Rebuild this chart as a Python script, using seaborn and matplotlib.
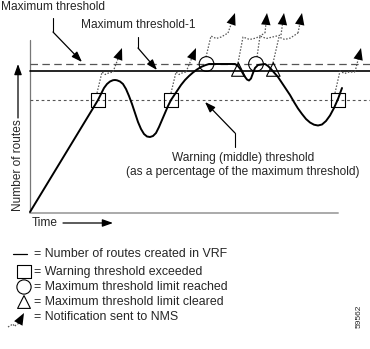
import numpy as np
import pandas as pd
import matplotlib
matplotlib.use("Agg")
import matplotlib.pyplot as plt
import seaborn as sns

sns.set_theme(style="white")
plt.rcParams["font.family"] = ["Liberation Sans", "DejaVu Sans"]

# Number of routes in the VRF over time
time = [0, 65, 68, 71, 74, 77, 80, 83, 85, 87, 90, 93, 96, 99, 102, 105, 108, 111,
        114, 117, 120, 123, 126, 129, 132, 135, 138, 141, 145, 148, 151, 155, 159,
        163, 167, 171, 175, 179, 205, 208, 211, 214, 217, 219, 221, 223, 225, 228,
        235, 238, 241, 244, 248, 252, 256, 260, 264, 268, 272, 276, 280, 284, 288,
        292, 296, 300, 304, 308, 312]
routes = [0, 107, 112, 118, 124, 128, 130.5, 131.8, 132, 131.7, 130.5, 128, 123, 116,
          108, 99, 90, 83, 78, 75.5, 75, 76, 79, 85, 92, 99, 106, 112, 118, 122.5,
          127, 132, 136, 139.5, 142.5, 145, 146.7, 148, 148, 146, 142, 136.5, 132.5,
          131.5, 133.5, 139, 144, 147, 148, 146, 143, 139.5, 135, 129, 123, 117, 110,
          103.5, 98, 93, 89.5, 87.3, 86.5, 87.5, 91, 96.5, 104, 113, 124]

max_threshold = 148
max_threshold_1 = 141
warning_threshold = 112
time_end = 340

# Events
warning_t = [68, 141, 308]
reached_t = [176.5, 226]
cleared_t = [208.3, 243.3]
cleared_level = 142.5

# Notifications: start, knee, end of squiggle, arrow tip  (time, routes)
notifications = [
    [(67, 119), (72, 140), (83, 140), (92, 164)],
    [(141, 119), (146, 140), (156, 140), (166, 164)],
    [(305, 119), (310, 141), (325, 140), (331, 164)],
    [(176, 155), (181, 176), (198, 179), (205, 199)],
    [(208, 149), (213, 175), (235, 179), (237, 199)],
    [(227, 155), (230, 176), (251, 177), (254, 199)],
    [(243, 149), (249, 175), (268, 179), (272, 199)],
]

fig = plt.figure(figsize=(3.70, 3.49), dpi=100)
ax = fig.add_axes([0, 0, 1, 1])
ax.set_xlim(-30, 340)
ax.set_ylim(-137, 212)
ax.axis("off")

FS = 8.6
FS_KEY = 8.9
DOT = (0, (1.2, 1.3))


def arrow(ax, p0, p1, ms=9, lw=0.9):
    ax.annotate("", xy=p1, xytext=p0,
                arrowprops=dict(arrowstyle="-|>,head_length=0.7,head_width=0.25",
                                color="black", lw=lw, mutation_scale=ms,
                                shrinkA=0, shrinkB=0))


def notification(ax, pts, color="#555555"):
    (x0, y0), (x1, y1), (x2, y2), (x3, y3) = pts
    w = x2 - x1
    xs = [x0, x1, x1 + 0.3 * w, x1 + 0.6 * w, x2]
    ys = [y0, y1, y1 - 2.5, y1 - 1.0, y2]
    ax.plot(xs, ys, linestyle=DOT, color=color, lw=0.9)
    ax.plot([x2, x3 - 0.2 * (x3 - x2)], [y2, y3 - 0.2 * (y3 - y2)],
            linestyle=DOT, color=color, lw=0.9)
    ax.annotate("", xy=(x3, y3), xytext=(x3 - 0.3 * (x3 - x2), y3 - 0.3 * (y3 - y2)),
                arrowprops=dict(arrowstyle="-|>,head_length=0.9,head_width=0.36",
                                color="black", lw=0, mutation_scale=9.5,
                                shrinkA=0, shrinkB=0))


# Axes lines
ax.plot([0, 0], [0, 172], color="#777777", lw=0.9)
ax.plot([0, 308], [-1, -1], color="#aaaaaa", lw=1.4)

# Threshold lines
sns.lineplot(x=[0, time_end], y=[max_threshold] * 2, ax=ax, color="#555555",
             lw=0.9, linestyle=(0, (6, 3.5)))
sns.lineplot(x=[0, time_end], y=[max_threshold_1] * 2, ax=ax, color="black", lw=1.2)
sns.lineplot(x=[0, time_end], y=[warning_threshold] * 2, ax=ax, color="#555555",
             lw=0.8, linestyle=(0, (2.5, 2.5)))

# Route count curve
df = pd.DataFrame({"time": time, "routes": routes})
sns.lineplot(data=df, x="time", y="routes", sort=False, ax=ax, color="black", lw=1.4)

# Notifications
for pts in notifications:
    notification(ax, pts)

# Event markers
sns.scatterplot(x=warning_t, y=[warning_threshold] * len(warning_t), ax=ax, marker="s",
                s=108, facecolor="none", edgecolor="black", linewidth=0.8, zorder=5)
sns.scatterplot(x=reached_t, y=[max_threshold] * len(reached_t), ax=ax, marker="o",
                s=112, facecolor="none", edgecolor="black", linewidth=0.8, zorder=5)
sns.scatterplot(x=cleared_t, y=[cleared_level] * len(cleared_t), ax=ax, marker="^",
                s=95, facecolor="none", edgecolor="black", linewidth=0.8, zorder=5)

# Labels with pointers
ax.text(-29, 205, "Maximum threshold", fontsize=FS, ha="left", va="center")
ax.plot([23, 23], [194, 180], color="black", lw=0.8)
arrow(ax, (23, 180), (52, 150))
ax.text(51, 187, "Maximum threshold-1", fontsize=FS, ha="left", va="center")
ax.plot([108, 108], [175, 164], color="black", lw=0.8)
arrow(ax, (108, 164), (127, 142))
ax.plot([205, 205], [65, 79], color="black", lw=0.8)
arrow(ax, (205, 79), (175, 110))
ax.text(213, 54, "Warning (middle) threshold", fontsize=FS, ha="center", va="center")
ax.text(213, 40, "(as a percentage of the maximum threshold)", fontsize=FS,
        ha="center", va="center")

# Axis titles
ax.text(-12, 47, "Number of routes", fontsize=FS, rotation=90, ha="center", va="center")
arrow(ax, (-12, 94), (-12, 148))
ax.text(2, -11, "Time", fontsize=FS, ha="left", va="center")
arrow(ax, (33, -11), (83, -11))

# Key
ax.plot([-17, -3], [-42, -42], color="black", lw=0.9)
ax.text(4, -42, "= Number of routes created in VRF", fontsize=FS_KEY, ha="left", va="center")
ax.scatter([-6], [-59.5], marker="s", s=100, facecolor="none", edgecolor="black", lw=0.8)
ax.text(4, -60, "= Warning threshold exceeded", fontsize=FS_KEY, ha="left", va="center")
ax.scatter([-6], [-75], marker="o", s=105, facecolor="none", edgecolor="black", lw=0.8)
ax.text(4, -75, "= Maximum threshold limit reached", fontsize=FS_KEY, ha="left", va="center")
ax.scatter([-6], [-90], marker="^", s=85, facecolor="none", edgecolor="black", lw=0.8)
ax.text(4, -90, "= Maximum threshold limit cleared", fontsize=FS_KEY, ha="left", va="center")
notification(ax, [(-22, -115), (-17, -112), (-12, -112), (-6, -101)])
ax.text(4, -105, "= Notification sent to NMS", fontsize=FS_KEY, ha="left", va="center")

ax.text(329, -104, "59562", fontsize=6, rotation=90, ha="center", va="center")

fig.savefig("out.png", dpi=100)
